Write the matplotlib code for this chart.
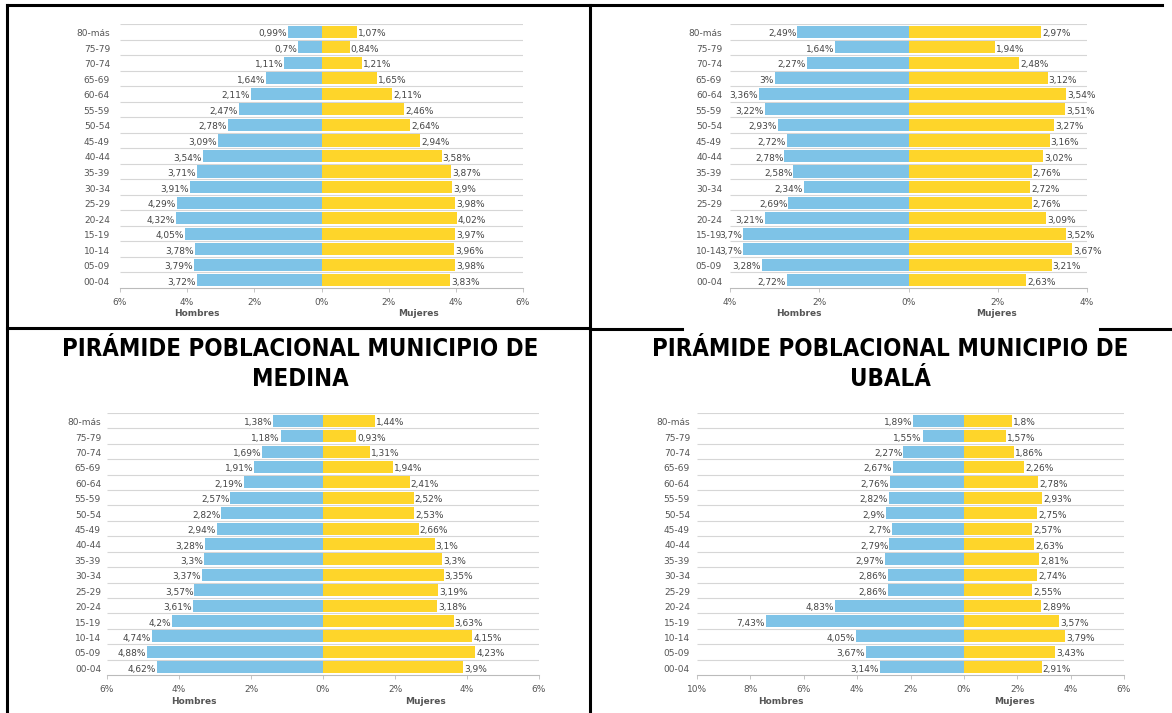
import matplotlib
matplotlib.use("Agg")
import matplotlib.pyplot as plt
from matplotlib.lines import Line2D
from matplotlib.ticker import FuncFormatter

W, H = 1172, 713

age_groups = ["80-más", "75-79", "70-74", "65-69", "60-64", "55-59", "50-54", "45-49",
              "40-44", "35-39", "30-34", "25-29", "20-24", "15-19", "10-14", "05-09", "00-04"]

# panel arriba izquierda
tl_men = [0.99, 0.7, 1.11, 1.64, 2.11, 2.47, 2.78, 3.09, 3.54, 3.71, 3.91, 4.29, 4.32, 4.05, 3.78, 3.79, 3.72]
tl_women = [1.07, 0.84, 1.21, 1.65, 2.11, 2.46, 2.64, 2.94, 3.58, 3.87, 3.9, 3.98, 4.02, 3.97, 3.96, 3.98, 3.83]

# panel arriba derecha
tr_men = [2.49, 1.64, 2.27, 3, 3.36, 3.22, 2.93, 2.72, 2.78, 2.58, 2.34, 2.69, 3.21, 3.7, 3.7, 3.28, 2.72]
tr_women = [2.97, 1.94, 2.48, 3.12, 3.54, 3.51, 3.27, 3.16, 3.02, 2.76, 2.72, 2.76, 3.09, 3.52, 3.67, 3.21, 2.63]

# Medina
medina_men = [1.38, 1.18, 1.69, 1.91, 2.19, 2.57, 2.82, 2.94, 3.28, 3.3, 3.37, 3.57, 3.61, 4.2, 4.74, 4.88, 4.62]
medina_women = [1.44, 0.93, 1.31, 1.94, 2.41, 2.52, 2.53, 2.66, 3.1, 3.3, 3.35, 3.19, 3.18, 3.63, 4.15, 4.23, 3.9]

# Ubalá
ubala_men = [1.89, 1.55, 2.27, 2.67, 2.76, 2.82, 2.9, 2.7, 2.79, 2.97, 2.86, 2.86, 4.83, 7.43, 4.05, 3.67, 3.14]
ubala_women = [1.8, 1.57, 1.86, 2.26, 2.78, 2.93, 2.75, 2.57, 2.63, 2.81, 2.74, 2.55, 2.89, 3.57, 3.79, 3.43, 2.91]

title_lines = [("PIRÁMIDE POBLACIONAL MUNICIPIO DE", "MEDINA"),
               ("PIRÁMIDE POBLACIONAL MUNICIPIO DE", "UBALÁ")]

BLUE = "#7ec3e7"
YELLOW = "#fed52a"
GRID = "#d6d6d6"
TEXT = "#555555"
SMALL = 6.5


def pct(v):
    return f"{v:g}".replace(".", ",") + "%"


def px_axes(fig, left, right, top, bottom):
    return fig.add_axes([left / W, 1 - bottom / H, (right - left) / W, (bottom - top) / H])


def draw_pyramid(ax, men, women, xlim, ticks, hombres_x, mujeres_x, label_pad):
    n = len(age_groups)
    y = list(range(n))
    ax.barh(y, [-v for v in men], height=0.78, color=BLUE, zorder=2)
    ax.barh(y, women, height=0.78, color=YELLOW, zorder=2)
    ax.hlines([i - 0.5 for i in range(n)], xlim[0], xlim[1], color=GRID, lw=0.8, zorder=1)
    ax.set_xlim(xlim)
    ax.set_ylim(n - 0.5, -0.5)

    for i, (m, w) in enumerate(zip(men, women)):
        ax.annotate(pct(m), xy=(-m, i), xytext=(-1, -2), textcoords="offset pixels",
                    ha="right", va="center", fontsize=SMALL, color="#444444",
                    annotation_clip=False, zorder=3)
        ax.annotate(pct(w), xy=(w, i), xytext=(1, -2), textcoords="offset pixels",
                    ha="left", va="center", fontsize=SMALL, color="#444444",
                    annotation_clip=False, zorder=3)
        ax.annotate(age_groups[i], xy=(0, i), xycoords=("axes fraction", "data"),
                    xytext=(-label_pad, -2), textcoords="offset pixels",
                    ha="right", va="center", fontsize=SMALL, color=TEXT)

    ax.set_yticks([])
    ax.set_xticks(ticks)
    ax.xaxis.set_major_formatter(FuncFormatter(lambda x, _: f"{abs(int(round(x)))}%"))
    ax.tick_params(axis="x", length=3, width=0.6, color="#bbbbbb", pad=4.5,
                   labelsize=SMALL, labelcolor=TEXT)
    for side in ["top", "right", "left"]:
        ax.spines[side].set_visible(False)
    ax.spines["bottom"].set_color("#bbbbbb")
    ax.spines["bottom"].set_linewidth(0.8)

    for name, x in [("Hombres", hombres_x), ("Mujeres", mujeres_x)]:
        ax.annotate(name, xy=(x, 0), xycoords=("data", "axes fraction"),
                    xytext=(0, -26), textcoords="offset pixels", ha="center", va="center",
                    fontsize=SMALL, fontweight="bold", color=TEXT)


fig = plt.figure(figsize=(W / 100, H / 100), dpi=100)
fig.patch.set_facecolor("white")

ax1 = px_axes(fig, 120, 523, 24, 288)
draw_pyramid(ax1, tl_men, tl_women, (-6, 6), [-6, -4, -2, 0, 2, 4, 6], -3.7, 2.9, 10)

ax2 = px_axes(fig, 730, 1087, 24, 288)
draw_pyramid(ax2, tr_men, tr_women, (-4, 4), [-4, -2, 0, 2, 4], -2.45, 1.97, 8)

ax3 = px_axes(fig, 107, 539, 413, 675)
draw_pyramid(ax3, medina_men, medina_women, (-6, 6), [-6, -4, -2, 0, 2, 4, 6], -3.6, 2.86, 6)

ax4 = px_axes(fig, 697, 1124, 413, 675)
draw_pyramid(ax4, ubala_men, ubala_women, (-10, 6), [-10, -8, -6, -4, -2, 0, 2, 4, 6],
             -6.85, 1.9, 7)

# titulos: fuente estrecha en negrita, ajustada al ancho del original (~473 px)
renderer = fig.canvas.get_renderer()
for (line1, line2), cx in zip(title_lines, [300, 890]):
    t1 = fig.text(cx / W, 1 - 349 / H, line1, ha="center", va="center", fontsize=21,
                  fontweight="bold", family="DejaVu Sans", fontstretch="condensed")
    width = t1.get_window_extent(renderer).width
    size = 21 * min(1.0, 473 / width)
    t1.set_fontsize(size)
    fig.text(cx / W, 1 - 379 / H, line2, ha="center", va="center", fontsize=size,
             fontweight="bold", family="DejaVu Sans", fontstretch="condensed")

# bordes de la tabla
lw = 2.2
segments = [
    ((7, 1162), (5, 5)),
    ((7, 7), (5, 713)),
    ((590, 590), (5, 713)),
    ((7, 590), (328, 328)),
    ((590, 682), (329, 329)),
    ((1100, 1172), (329, 329)),
]
for (x0, x1), (y0, y1) in segments:
    fig.add_artist(Line2D([x0 / W, x1 / W], [1 - y0 / H, 1 - y1 / H],
                          transform=fig.transFigure, color="black", lw=lw))

fig.savefig("out.png", dpi=100)
